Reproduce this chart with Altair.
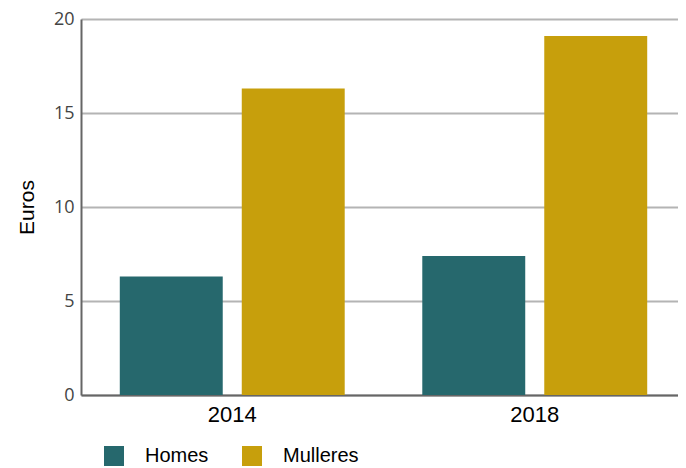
import altair as alt
import pandas as pd

years = ["2014", "2014", "2018", "2018"]
groups = ["Homes", "Mulleres", "Homes", "Mulleres"]
values = [6.3, 16.3, 7.4, 19.1]
group_order = ["Homes", "Mulleres"]
colors = ["#26686d", "#c79f0c"]
y_ticks = [0, 5, 10, 15, 20]

df = pd.DataFrame({"year": years, "group": groups, "value": values})

chart = alt.Chart(df).mark_bar().encode(
    x=alt.X("year:N", title=None,
            scale=alt.Scale(paddingInner=0, paddingOuter=0, range=[0, 605]),
            axis=alt.Axis(labelAngle=0, ticks=False, domainColor="#666666", domainWidth=2,
                          labelFont="Liberation Sans", labelFontSize=22, labelColor="#000000",
                          labelPadding=9, grid=False)),
    xOffset=alt.XOffset("group:N", sort=group_order,
                        scale=alt.Scale(paddingInner=0.156, paddingOuter=0.318)),
    y=alt.Y("value:Q", title="Euros",
            scale=alt.Scale(domain=[0, 20], nice=False),
            axis=alt.Axis(values=y_ticks, ticks=False, domainColor="#666666", domainWidth=2,
                          gridColor="#b4b4b4", gridWidth=2,
                          labelFont="Open Sans", labelFontSize=18, labelColor="#444444",
                          labelPadding=7, titleFont="Liberation Sans", titleFontSize=21,
                          titleFontWeight="normal", titleColor="#000000", titlePadding=16)),
    color=alt.Color("group:N", sort=group_order,
                    scale=alt.Scale(domain=group_order, range=colors),
                    legend=alt.Legend(title=None, orient="none", direction="horizontal",
                                      legendX=23, legendY=427, padding=0,
                                      symbolType="square", symbolSize=400, symbolStrokeWidth=0,
                                      labelFont="Liberation Sans", labelFontSize=20,
                                      labelColor="#000000", labelOffset=21, columnPadding=33)),
).properties(
    width=597, height=376,
    autosize=alt.AutoSizeParams(type="none"),
    padding={"left": 73, "top": 11, "right": 0, "bottom": 73},
).configure_view(stroke=None)

chart.save("out.html", embed_options={"renderer": "svg", "actions": False})
